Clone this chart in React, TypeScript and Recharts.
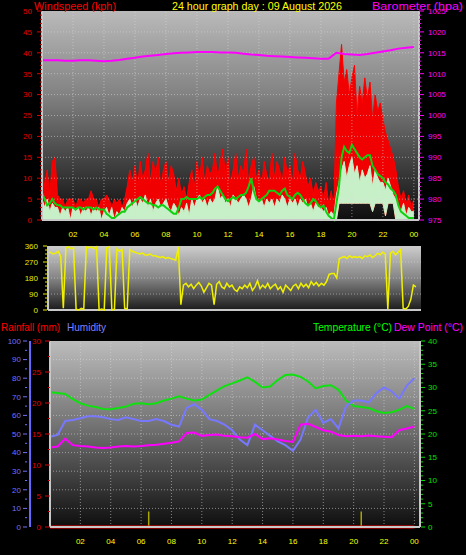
import React from 'react';
import { ComposedChart, Area, Line, XAxis, YAxis, ReferenceLine, ReferenceArea } from 'recharts';

const FONT = '"Liberation Sans", Arial, sans-serif';

// ---------- Wind chart (10-minute samples, 00:00 .. 24:00) ----------
const windGust = [
  15, 8, 12, 6, 14, 15, /*01*/ 6, 5, 5, 3, 5, 5, /*02*/ 5, 3, 5, 5, 4, 5, /*03*/ 5, 7, 5, 5, 3, 5,
  /*04*/ 5, 6, 5, 3, 5, 4, /*05*/ 5, 3, 5, 8, 12, 9, /*06*/ 13, 8, 14, 10, 12, 16, /*07*/ 9, 14, 11, 15, 8, 12,
  /*08*/ 14, 9, 13, 11, 7, 10, /*09*/ 6, 8, 5, 9, 12, 8, /*10*/ 14, 10, 15, 9, 13, 11, /*11*/ 12, 16, 10, 14, 17, 11,
  /*12*/ 15, 9, 12, 16, 10, 13, /*13*/ 11, 17, 9, 13, 15, 10, /*14*/ 12, 8, 14, 11, 9, 16, /*15*/ 10, 14, 12, 9, 15, 11,
  /*16*/ 13, 9, 16, 12, 10, 14, /*17*/ 11, 8, 10, 6, 9, 7, /*18*/ 8, 5, 9, 4, 7, 3, /*19*/ 28, 35, 42, 33, 36, 30,
  /*20*/ 34, 37, 25, 32, 28, 34, /*21*/ 29, 33, 24, 30, 26, 28, /*22*/ 24, 21, 19, 17, 15, 12, /*23*/ 8, 5, 7, 4, 6, 3,
  /*24*/ 5,
];
const windSpeedHigh = [
  5, 3, 5, 2, 4, 3, /*01*/ 3, 1, 3, 2, 3, 0, /*02*/ 3, 2, 3, 1, 3, 2, /*03*/ 3, 1, 3, 2, 3, 0,
  /*04*/ 2, 3, 1, 3, 0, 2, /*05*/ 1, 3, 2, 4, 5, 3, /*06*/ 5, 3, 5, 4, 6, 3, /*07*/ 5, 2, 4, 5, 3, 4,
  /*08*/ 5, 3, 2, 4, 3, 1, /*09*/ 3, 2, 4, 1, 5, 3, /*10*/ 5, 6, 4, 5, 3, 5, /*11*/ 4, 5, 8, 5, 6, 4,
  /*12*/ 5, 3, 6, 5, 4, 5, /*13*/ 6, 5, 3, 5, 8, 5, /*14*/ 4, 5, 3, 5, 4, 5, /*15*/ 3, 5, 4, 6, 5, 3,
  /*16*/ 5, 4, 5, 3, 5, 4, /*17*/ 5, 3, 4, 2, 4, 3, /*18*/ 3, 2, 3, 1, 2, 1, /*19*/ 6, 9, 12, 14, 10, 13,
  /*20*/ 15, 11, 13, 9, 12, 10, /*21*/ 11, 13, 8, 12, 10, 9, /*22*/ 9, 7, 10, 8, 6, 5, /*23*/ 3, 2, 4, 1, 3, 2,
  /*24*/ 2,
];
const windSpeedLow = [
  0, 0, 0, 0, 0, 0, /*01*/ 0, 0, 0, 0, 0, 0, /*02*/ 0, 0, 0, 0, 0, 0, /*03*/ 0, 0, 0, 0, 0, 0,
  /*04*/ 0, 0, 0, 0, 0, 0, /*05*/ 0, 0, 0, 0, 0, 0, /*06*/ 0, 0, 0, 0, 0, 0, /*07*/ 0, 0, 0, 0, 0, 0,
  /*08*/ 0, 0, 0, 0, 0, 0, /*09*/ 0, 0, 0, 0, 0, 0, /*10*/ 0, 0, 0, 0, 0, 0, /*11*/ 0, 0, 0, 0, 0, 0,
  /*12*/ 0, 0, 0, 0, 0, 0, /*13*/ 0, 0, 0, 0, 0, 0, /*14*/ 0, 0, 0, 0, 0, 0, /*15*/ 0, 0, 0, 0, 0, 0,
  /*16*/ 0, 0, 0, 0, 0, 0, /*17*/ 0, 0, 0, 0, 0, 0, /*18*/ 0, 0, 0, 0, 0, 0, /*19*/ 0, 4, 4, 4, 4, 4,
  /*20*/ 4, 4, 4, 4, 4, 4, /*21*/ 4, 4, 2, 4, 4, 4, /*22*/ 4, 1, 4, 4, 4, 0, /*23*/ 0, 0, 0, 0, 0, 0,
  /*24*/ 0,
];
const windAverage = [
  6.5, 5, 3.5, 4, 5, 4, /*01*/ 3.5, 3.5, 3, 3, 3, 3, /*02*/ 3, 2.5, 3, 3, 2.5, 3, /*03*/ 3, 3, 2.5, 3, 2.5, 2.5,
  /*04*/ 2.5, 1.5, 1, 0.5, 0.5, 1, /*05*/ 1.5, 2, 2, 3, 3.5, 4, /*06*/ 4.5, 5, 5.5, 5, 4.5, 4, /*07*/ 4, 3.5, 3.5, 3, 3.5, 3.5,
  /*08*/ 3, 2.5, 2, 1.5, 1.5, 3, /*09*/ 5, 5, 5.5, 5, 5, 5, /*10*/ 5, 5.5, 5, 5.5, 6, 6, /*11*/ 6.5, 7.5, 8, 7, 6, 5,
  /*12*/ 4.5, 5, 5.5, 5, 5.5, 6, /*13*/ 6, 6.5, 8, 10, 7, 5, /*14*/ 4.5, 5, 5.5, 6, 7, 7, /*15*/ 7, 6.5, 6, 7, 7.5, 6,
  /*16*/ 5.5, 5, 6, 6.5, 6, 5, /*17*/ 4, 3.5, 4, 5, 4.5, 3.5, /*18*/ 3, 3.5, 2, 1, 0.5, 0, /*19*/ 4, 8, 15, 17.5, 16.5, 16,
  /*20*/ 18, 17, 16, 15, 14.5, 15, /*21*/ 15.5, 15.5, 13, 12, 11, 10.5, /*22*/ 10, 9, 8.5, 7.5, 7, 6, /*23*/ 3.5, 2, 1.5, 1, 0.5, 0.5,
  /*24*/ 0.5,
];
// Barometer, half-hourly 00:00 .. 24:00
const barometer = [
  1013.2, 1013.2, 1013.2, 1013.1, 1013.1, 1013.2, 1013.2, 1013.1, 1013.0, 1013.1,
  1013.3, 1013.6, 1013.8, 1014.1, 1014.3, 1014.5, 1014.7, 1014.9, 1015.0, 1015.1,
  1015.2, 1015.2, 1015.2, 1015.1, 1015.1, 1015.0, 1014.8, 1014.6, 1014.5, 1014.3,
  1014.2, 1014.1, 1014.0, 1013.9, 1013.8, 1013.7, 1013.6, 1013.6, 1015.0, 1014.7,
  1014.6, 1014.5, 1014.7, 1015.0, 1015.3, 1015.6, 1016.0, 1016.2, 1016.4,
];

// ---------- Wind direction (10-minute samples) ----------
const windDirection = [
  320, 325, 315, 320, 330, 300, /*01*/ 10, 350, 355, 345, 350, 5, /*02*/ 0, 10, 5, 355, 350, 355, /*03*/ 345, 355, 0, 5, 0, 350,
  /*04*/ 355, 0, 5, 345, 330, 340, /*05*/ 10, 5, 340, 330, 325, 320, /*06*/ 315, 320, 310, 310, 315, 305, /*07*/ 305, 300, 295, 300, 290, 295,
  /*08*/ 290, 285, 280, 355, 30, 140, /*09*/ 150, 130, 145, 120, 140, 155, /*10*/ 135, 100, 125, 150, 140, 30, /*11*/ 145, 160, 130, 120, 150, 130,
  /*12*/ 140, 115, 105, 130, 120, 140, /*13*/ 125, 150, 110, 130, 165, 120, /*14*/ 140, 125, 150, 120, 135, 145, /*15*/ 115, 130, 100, 140, 125, 110,
  /*16*/ 135, 145, 120, 150, 130, 145, /*17*/ 125, 160, 140, 155, 135, 150, /*18*/ 140, 160, 200, 205, 205, 180, /*19*/ 290, 295, 300, 290, 305, 295,
  /*20*/ 300, 295, 300, 290, 305, 300, /*21*/ 310, 295, 305, 320, 310, 325, /*22*/ 315, 5, 320, 330, 310, 325, /*23*/ 340, 10, 5, 20, 60, 140,
  /*24*/ 130,
];

// ---------- Temperature / humidity / dew point (half-hourly) ----------
const temperature = [
  29.0, 28.8, 28.6, 27.5, 26.6, 26.1, 25.8, 25.4, 25.3, 25.6, 25.9, 26.5, 26.6, 26.4, 26.6, 27.2, 27.6,
  28.1, 27.6, 27.2, 27.4, 28.4, 29.4, 30.3, 30.9, 31.5, 32.2, 31.2, 30.0, 30.2, 31.6, 32.7, 32.8,
  32.3, 31.3, 29.8, 30.3, 30.5, 29.5, 27.2, 26.0, 25.8, 25.6, 24.9, 24.5, 24.7, 25.2, 26.0, 25.4,
];
const humidity = [
  48.5, 49.5, 57, 57.5, 58.5, 59.5, 59.5, 59, 58, 57.5, 59, 58, 57, 57, 58, 57, 55,
  54, 64, 66, 63, 58, 57, 55, 52, 47, 44, 55, 52, 49, 46, 44, 41,
  47, 59, 63, 56, 58, 53, 65, 68, 68, 67, 72, 75, 73, 69, 76, 80,
];
const dewPoint = [
  17.1, 17.3, 19.0, 17.6, 17.4, 17.3, 17.1, 17.0, 17.1, 17.3, 17.4, 17.3, 17.4, 17.6, 17.7, 17.9, 18.1,
  18.4, 20.2, 20.3, 19.6, 19.8, 19.9, 19.6, 19.5, 19.3, 19.2, 20.0, 18.9, 19.1, 18.8, 18.5, 18.3,
  22.0, 22.2, 21.5, 20.8, 20.5, 19.8, 19.5, 19.6, 19.5, 19.7, 19.5, 19.4, 19.3, 20.8, 21.2, 21.6,
];
// Rainfall, hourly
const rainfall = [0, 0, 0, 0, 0, 0, 0, 0, 0, 0, 0, 0, 0, 0, 0, 0, 0, 0, 0, 0, 0, 0, 0, 0, 0];
// rain-rate marks
const rainMarkTimes = [6.5, 20.5];
const rainMarkValues = [2.5, 2.5];

const hourTicks = [2, 4, 6, 8, 10, 12, 14, 16, 18, 20, 22, 24];
const compassLabels: Record<number, string> = { 0: 'N', 90: 'E', 180: 'S', 270: 'W', 360: 'N' };

const windData = windGust.map((g, i) => ({
  t: i / 6,
  gust: [windSpeedLow[i], g],
  speed: [windSpeedLow[i], windSpeedHigh[i]],
  avg: windAverage[i],
  baro: i % 3 === 0 ? barometer[i / 3] : null,
}));
const dirData = windDirection.map((d, i) => ({ t: i / 6, dir: d }));
const tempData = temperature.map((tv, i) => ({
  t: i / 2,
  temp: tv,
  hum: humidity[i],
  dew: dewPoint[i],
  rain: i % 2 === 0 ? rainfall[i / 2] : null,
}));

const range = (a: number, b: number, s: number) => {
  const r: number[] = [];
  for (let v = a; v <= b + 1e-9; v += s) r.push(Math.round(v * 100) / 100);
  return r;
};

type TickOpts = {
  side: 'left' | 'right';
  color: string;
  isMajor: (v: number) => boolean;
  majorLen: number;
  minorLen: number;
  gap: number;
  offset?: number;
  fontSize?: number;
  fmt?: (v: number) => string;
};
const makeTick = (o: TickOpts) => (props: any) => {
  const { x, y, payload } = props;
  const v = payload.value as number;
  const major = o.isMajor(v);
  const d = o.side === 'left' ? -1 : 1;
  const x0 = x + d * (o.offset ?? 0);
  const len = major ? o.majorLen : o.minorLen;
  return (
    <g>
      {len > 0 && <line x1={x0} x2={x0 + d * len} y1={y} y2={y} stroke={o.color} strokeWidth={1} />}
      {major && (
        <text x={x0 + d * (o.majorLen + o.gap)} y={y} dy="0.35em" textAnchor={d < 0 ? 'end' : 'start'}
          fill={o.color} fontSize={o.fontSize ?? 8} fontFamily={FONT}>
          {o.fmt ? o.fmt(v) : String(v)}
        </text>
      )}
    </g>
  );
};
const makeXTick = (dy: number) => (props: any) => {
  const { x, y, payload } = props;
  const v = payload.value as number;
  return (
    <text x={x} y={y + dy} dy="0.35em" textAnchor="middle" fill="#ffff00" fontSize={8} fontFamily={FONT}>
      {String(Math.round(v) % 24).padStart(2, '0')}
    </text>
  );
};

const GRID = { stroke: '#d8d8d8', strokeDasharray: '1 2', strokeOpacity: 0.55, strokeWidth: 1 };
const BORDER = '#c8c8c8';

function WindChart() {
  const X = 24.33;
  return (
    <ComposedChart width={466} height={240} data={windData} margin={{ top: 11, right: 0, bottom: 0, left: 0 }}>
      <XAxis dataKey="t" type="number" domain={[0, X]} ticks={hourTicks} interval={0} height={20}
        tickSize={0} tickMargin={0} tickLine={false} axisLine={{ stroke: BORDER, strokeWidth: 2 }} tick={makeXTick(14)} />
      <YAxis yAxisId="w" domain={[0, 50]} ticks={range(0, 50, 1)} interval={0} width={42} tickSize={0} tickMargin={0}
        tickLine={false} axisLine={{ stroke: BORDER, strokeWidth: 2 }}
        tick={makeTick({ side: 'left', color: '#e00000', isMajor: (v) => v % 5 === 0, majorLen: 5, minorLen: 2, gap: 5 })} />
      <YAxis yAxisId="b" orientation="right" domain={[975, 1025]} ticks={range(975, 1025, 1)} interval={0} width={47}
        tickSize={0} tickMargin={0} tickLine={false} axisLine={{ stroke: BORDER, strokeWidth: 2 }}
        tick={makeTick({ side: 'right', color: '#ff00ff', isMajor: (v) => v % 5 === 0, majorLen: 5, minorLen: 2, gap: 4 })} />
      <ReferenceArea yAxisId="w" x1={0} x2={X} y1={0} y2={50} fill="url(#gWind)" fillOpacity={1} stroke="none" />
      {range(5, 45, 5).map((v) => (
        <ReferenceLine key={'h' + v} yAxisId="w" y={v} {...GRID} />
      ))}
      {hourTicks.map((v) => (
        <ReferenceLine key={'v' + v} yAxisId="w" x={v} {...GRID} />
      ))}
      <Area yAxisId="w" dataKey="gust" type="linear" stroke="#ff0000" strokeWidth={1} fill="#f00000" fillOpacity={1}
        isAnimationActive={false} dot={false} activeDot={false} />
      <Area yAxisId="w" dataKey="speed" type="linear" stroke="#c8f0c8" strokeWidth={1} fill="#c8f0c8" fillOpacity={1}
        isAnimationActive={false} dot={false} activeDot={false} />
      <Line yAxisId="w" dataKey="avg" type="linear" stroke="#10d010" strokeWidth={2} dot={false} isAnimationActive={false} />
      <Line yAxisId="b" dataKey="baro" type="linear" stroke="#ff00ff" strokeWidth={2} dot={false} connectNulls
        isAnimationActive={false} />
    </ComposedChart>
  );
}

function DirectionChart() {
  const X = 24.33;
  return (
    <ComposedChart width={466} height={80} data={dirData} margin={{ top: 10, right: 0, bottom: 6, left: 0 }}>
      <XAxis dataKey="t" type="number" domain={[0, X]} hide />
      <YAxis yAxisId="d" domain={[0, 360]} ticks={range(0, 360, 22.5)} interval={0} width={48} tickSize={0} tickMargin={0}
        tickLine={false} axisLine={{ stroke: BORDER, strokeWidth: 2 }}
        tick={makeTick({ side: 'left', color: '#e8e800', isMajor: (v) => v % 90 === 0, majorLen: 4, minorLen: 2, gap: 5, offset: 1 })} />
      <YAxis yAxisId="c" orientation="right" domain={[0, 360]} ticks={[0, 90, 180, 270, 360]} interval={0} width={45}
        tickSize={0} tickMargin={0} tickLine={false} axisLine={false}
        tick={makeTick({ side: 'right', color: '#ffff00', isMajor: () => true, majorLen: 0, minorLen: 0, gap: 11, fontSize: 12, fmt: (v) => compassLabels[v] })} />
      <ReferenceArea yAxisId="d" x1={0} x2={X} y1={0} y2={360} fill="url(#gDir)" fillOpacity={1} stroke="none" />
      {[90, 180, 270].map((v) => (
        <ReferenceLine key={'h' + v} yAxisId="d" y={v} {...GRID} />
      ))}
      <ReferenceLine yAxisId="d" y={0} stroke={BORDER} strokeWidth={2} />
      <Line yAxisId="d" dataKey="dir" type="linear" stroke="#f0f000" strokeWidth={1.5} dot={false} isAnimationActive={false} />
    </ComposedChart>
  );
}

function TempChart() {
  const X = 24.37;
  return (
    <ComposedChart width={466} height={225} data={tempData} margin={{ top: 11, right: 0, bottom: 0, left: 0 }}>
      <XAxis dataKey="t" type="number" domain={[0, X]} ticks={hourTicks} interval={0} height={28}
        tickSize={0} tickMargin={0} tickLine={false} axisLine={{ stroke: BORDER, strokeWidth: 2 }} tick={makeXTick(14.5)} />
      <YAxis yAxisId="a_rain" domain={[0, 30]} ticks={range(0, 30, 2.5)} interval={0} width={20} tickSize={0} tickMargin={0}
        tickLine={false} axisLine={{ stroke: BORDER, strokeWidth: 2 }}
        tick={makeTick({ side: 'left', color: '#e00000', isMajor: (v) => v % 5 === 0, majorLen: 5, minorLen: 2, gap: 4 })} />
      <YAxis yAxisId="z_hum" domain={[0, 100]} ticks={range(0, 100, 5)} interval={0} width={30} tickSize={0} tickMargin={0}
        tickLine={false} axisLine={{ stroke: '#6868ff', strokeWidth: 2 }}
        tick={makeTick({ side: 'left', color: '#7070ff', isMajor: (v) => v % 10 === 0, majorLen: 4, minorLen: 2, gap: 2, offset: 3 })} />
      <YAxis yAxisId="t" orientation="right" domain={[0, 40]} ticks={range(0, 40, 1)} interval={0} width={46}
        tickSize={0} tickMargin={0} tickLine={false} axisLine={{ stroke: BORDER, strokeWidth: 2 }}
        tick={makeTick({ side: 'right', color: '#00e000', isMajor: (v) => v % 5 === 0, majorLen: 4, minorLen: 2, gap: 3, offset: 1 })} />
      <ReferenceArea yAxisId="z_hum" x1={0} x2={X} y1={0} y2={100} fill="url(#gTemp)" fillOpacity={1} stroke="none" />
      {range(10, 90, 10).map((v) => (
        <ReferenceLine key={'h' + v} yAxisId="z_hum" y={v} {...GRID} />
      ))}
      {hourTicks.map((v) => (
        <ReferenceLine key={'v' + v} yAxisId="z_hum" x={v} {...GRID} />
      ))}
      {rainMarkTimes.map((t, i) => (
        <ReferenceLine key={'m' + t} yAxisId="a_rain" segment={[{ x: t, y: 0 }, { x: t, y: rainMarkValues[i] }]}
          stroke="#a8a800" strokeWidth={1.5} />
      ))}
      <Line yAxisId="t" dataKey="temp" type="linear" stroke="#10e010" strokeWidth={2} dot={false} isAnimationActive={false} />
      <Line yAxisId="z_hum" dataKey="hum" type="linear" stroke="#7878ff" strokeWidth={2} dot={false} isAnimationActive={false} />
      <Line yAxisId="t" dataKey="dew" type="linear" stroke="#ff00ff" strokeWidth={2} dot={false} isAnimationActive={false} />
      <Line yAxisId="a_rain" dataKey="rain" type="linear" stroke="#ff0000" strokeWidth={3} dot={false} connectNulls
        isAnimationActive={false} />
    </ComposedChart>
  );
}

const Label = ({ x, y, w, color, children }: { x: number; y: number; w: number; color: string; children: string }) => (
  <text x={x} y={y} fill={color} fontSize={11} fontFamily={FONT} textLength={w} lengthAdjust="spacingAndGlyphs">
    {children}
  </text>
);

export default function App() {
  return (
    <div style={{ position: 'absolute', left: 0, top: 0, width: 466, height: 555, background: '#000', overflow: 'hidden' }}>
      <svg width={0} height={0} style={{ position: 'absolute' }}>
        <defs>
          <linearGradient id="gWind" x1="0" y1="0" x2="0" y2="1">
            <stop offset="0" stopColor="#bababa" />
            <stop offset="0.4" stopColor="#828282" />
            <stop offset="0.72" stopColor="#424242" />
            <stop offset="1" stopColor="#0e0e0e" />
          </linearGradient>
          <linearGradient id="gDir" x1="0" y1="0" x2="0" y2="1">
            <stop offset="0" stopColor="#cdcdcd" />
            <stop offset="0.5" stopColor="#858585" />
            <stop offset="1" stopColor="#1c1c1c" />
          </linearGradient>
          <linearGradient id="gTemp" x1="0" y1="0" x2="0" y2="1">
            <stop offset="0" stopColor="#bcbcbc" />
            <stop offset="0.45" stopColor="#747474" />
            <stop offset="0.75" stopColor="#3c3c3c" />
            <stop offset="1" stopColor="#0e0e0e" />
          </linearGradient>
        </defs>
      </svg>
      <div style={{ position: 'absolute', left: 0, top: 0 }}>
        <WindChart />
      </div>
      <div style={{ position: 'absolute', left: 0, top: 236 }}>
        <DirectionChart />
      </div>
      <div style={{ position: 'absolute', left: 0, top: 330 }}>
        <TempChart />
      </div>
      <svg width={466} height={555} style={{ position: 'absolute', left: 0, top: 0, pointerEvents: 'none' }}>
        <Label x={34} y={9.5} w={82} color="#ff0000">Windspeed (kph)</Label>
        <Label x={172} y={9.5} w={170} color="#ffff00">24 hour graph day : 09 August 2026</Label>
        <Label x={372} y={9.5} w={91} color="#ff00ff">Barometer (hpa)</Label>
        <Label x={1} y={331} w={59} color="#ff0000">Rainfall (mm)</Label>
        <Label x={67} y={331} w={39} color="#8080ff">Humidity</Label>
        <Label x={313} y={331} w={79} color="#00ff00">Temperature (°C)</Label>
        <Label x={394} y={331} w={69} color="#ff00ff">Dew Point (°C)</Label>
      </svg>
    </div>
  );
}
